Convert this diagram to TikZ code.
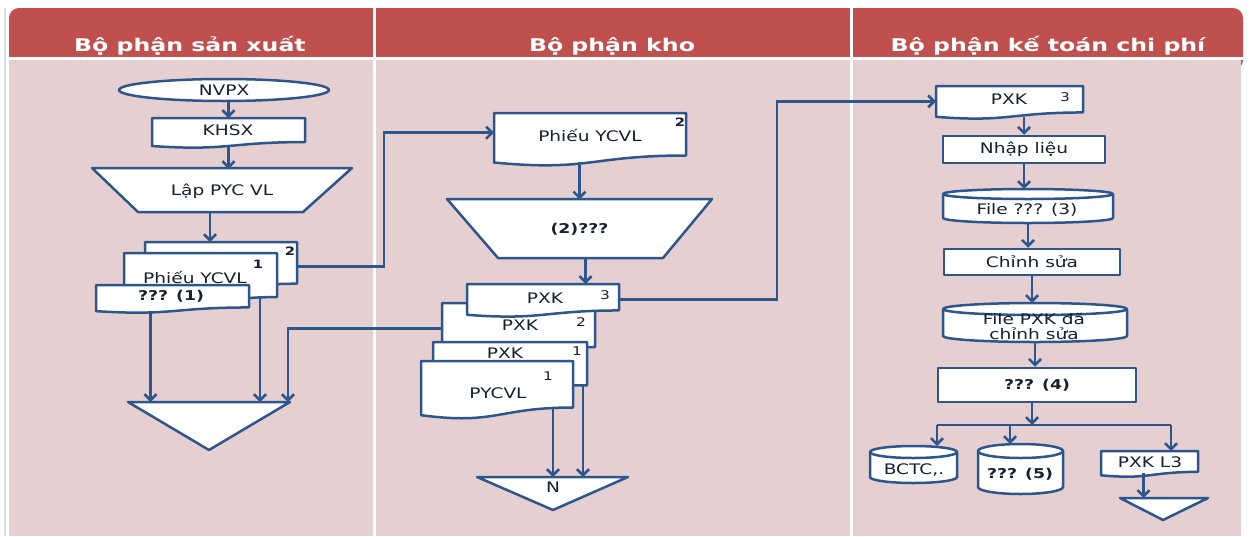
\documentclass[tikz,border=0pt]{standalone}
\usepackage{fontspec}
\setmainfont{DejaVu Sans}[FakeStretch=1.28]
\newfontfamily\hdrfont{DejaVu Sans}[FakeStretch=1.35]
\usetikzlibrary{arrows.meta,calc,shapes.geometric}
\definecolor{hdrc}{HTML}{C0504D}
\definecolor{bodyc}{HTML}{E6CFD1}
\definecolor{lnc}{HTML}{2D568C}
\definecolor{txtc}{HTML}{152030}
\definecolor{edgec}{HTML}{D9DEDE}
% document shape: name, x1, y1, x2, h
\newcommand\docsh[5]{%
  \filldraw[shp] (#2,#3) -- (#4,#3) -- (#4,{#3+0.802*#5})
    .. controls ({(#2+#4)/2},{#3+0.802*#5}) and ({(#2+#4)/2},{#3+1.107*#5}) .. (#2,{#3+0.934*#5}) -- cycle;
  \node[anc, minimum width={(#4-#2)*1pt}, minimum height={0.933*#5*1pt}] (#1) at ({(#2+#4)/2},{#3+0.4665*#5}) {};
}
% cylinder shape: name, x1, y1, x2, y2, ry
\newcommand\cylsh[6]{%
  \filldraw[shp] (#2,{#3+#6}) -- (#2,{#5-#6})
    arc[start angle=180,end angle=0,x radius={(#4-#2)/2},y radius=#6]
    -- (#4,{#3+#6})
    arc[start angle=0,end angle=-180,x radius={(#4-#2)/2},y radius=#6] -- cycle;
  \draw[shp,fill=none] (#2,{#3+#6}) arc[start angle=180,end angle=0,x radius={(#4-#2)/2},y radius=#6];
  \node[anc, minimum width={(#4-#2)*1pt}, minimum height={(#5-#3)*1pt}] (#1) at ({(#2+#4)/2},{(#3+#5)/2}) {};
}
\begin{document}
\begin{tikzpicture}[x=1pt,y=-1pt,
  shp/.style={draw=lnc, fill=white, line width=2.5pt, line join=round},
  arr/.style={draw=lnc, line width=2.6pt, -{Straight Barb[length=6pt,width=12pt]}},
  ln/.style={draw=lnc, line width=2.6pt},
  anc/.style={inner sep=0pt, outer sep=0pt},
  lbl/.style={text=txtc, font=\fontsize{14.5}{15.5}\selectfont, inner sep=0pt},
  blbl/.style={text=txtc, font=\fontsize{13.5}{15}\selectfont\bfseries, inner sep=0pt},
  num/.style={text=txtc, font=\fontsize{12}{13}\selectfont, inner sep=0pt},
  numb/.style={text=txtc, font=\fontsize{11.5}{12}\selectfont\bfseries, inner sep=0pt},
  hdr/.style={text=white, font=\hdrfont\fontsize{17.5}{20}\selectfont\bfseries, inner sep=0pt}
]
\useasboundingbox (0,0) rectangle (1249,536);
% background
\fill[white] (0,0) rectangle (1249,536);
\draw[edgec, line width=1.5pt] (5,8) -- (5,536);
\fill[hdrc, rounded corners=10pt] (9,8) rectangle (1243,70);
\fill[white] (9,57) rectangle (1243,60);
\fill[bodyc] (9,60) rectangle (1241,536);
\fill[white] (373,8) rectangle (375.5,536);
\fill[white] (850,8) rectangle (852.5,536);
\node[hdr] (h1) at (190,46) {Bộ phận sản xuất};
\node[hdr] (h2) at (612,46) {Bộ phận kho};
\node[hdr] (h3) at (1048,46) {Bộ phận kế toán chi phí};

% ---------- left column ----------
\node[shp, ellipse, minimum width=210pt, minimum height=22pt, inner sep=0pt, lbl] (nvpx) at (224,90) {NVPX};
\docsh{khsx}{152}{118}{305}{30}
\node[lbl] (khsxt) at (228,130) {KHSX};
\filldraw[shp] (92,168) -- (352,168) -- (303,212) -- (138,212) -- cycle;
\node[anc, lbl, minimum width=260pt, minimum height=44pt] (lap) at (222,191) {Lập PYC VL};
\docsh{d2}{145}{242}{297}{52}
\node[numb] (d2n) at (290,251) {2};
\docsh{d1}{124}{253}{277}{55}
\node[numb] (d1n) at (258,264) {1};
\node[lbl] (d1t) at (195,277) {Phiếu YCVL};
\docsh{q1}{96}{285}{249}{28}
\node[blbl] (q1t) at (171,296) {??? (1)};
\filldraw[shp] (128,402) -- (290,402) -- (209,450) -- cycle;
\node[anc, minimum width=162pt, minimum height=48pt] (t1) at (209,426) {};

\draw[arr] (khsx.north |- nvpx.south) -- (khsx.north);
\draw[arr] (khsx.south) -- (khsx.south |- lap.north);
\coordinate (lo) at ($(lap.south)+(-12,0)$);
\draw[arr] (lo) -- (lo |- d2.north);
\coordinate (q1o) at ($(q1.south)+(-22,0)$);
\draw[arr] (q1o) -- (q1o |- t1.north);
\coordinate (d1o) at ($(d1.south east)+(-17,-6)$);
\draw[arr] (d1o) -- (d1o |- t1.north);

% ---------- middle column ----------
\docsh{pyc2}{494}{113}{686}{53}
\node[lbl] (pyc2t) at (590,135) {Phiếu YCVL};
\node[numb] (pyc2n) at (680,122) {2};
\filldraw[shp] (447,199) -- (712,199) -- (663,258) -- (498,258) -- cycle;
\node[anc, blbl, minimum width=265pt, minimum height=59pt] (trap2) at (579.5,229) {(2)???};
\docsh{pxk2}{442}{303}{595}{55}
\node[lbl] (pxk2t) at (520,325) {PXK};
\node[num] (pxk2n) at (581,322) {2};
\docsh{pxk3}{467}{284}{619}{33}
\node[lbl] (pxk3t) at (545,298) {PXK};
\node[num] (pxk3n) at (605,295) {3};
\docsh{pxk1}{433}{342}{587}{54}
\node[lbl] (pxk1t) at (505,353) {PXK};
\node[num] (pxk1n) at (577,351) {1};
\docsh{pycvl}{421}{361}{573}{58}
\node[num] (pycvln) at (548,376) {1};
\node[lbl] (pycvlt) at (498,393) {PYCVL};
\filldraw[shp] (477,477) -- (628,477) -- (553,510) -- cycle;
\node[anc, minimum width=151pt, minimum height=33pt] (tn) at (552.5,493.5) {};
\node[lbl] (tnt) at (553,487) {N};

\coordinate (pyin) at ($(pyc2.west)+(0,-5)$);
\draw[arr] (d2.east) -- ++(87,0) |- (pyin);
\draw[arr] (trap2.north |- pyc2.south) -- (trap2.north);
\coordinate (t2o) at ($(trap2.south)+(6,0)$);
\draw[arr] (t2o) -- (t2o |- pxk3.north);
\coordinate (t1in) at ($(t1.north east)+(-2,0)$);
\draw[arr] (pxk2.west) -| (t1in);
\coordinate (pyo) at ($(pycvl.south east)+(-20,-7)$);
\draw[arr] (pyo) -- (pyo |- tn.north);
\coordinate (p1o) at ($(pxk1.south east)+(-4,-7)$);
\draw[arr] (p1o) -- (p1o |- tn.north);

% ---------- right column ----------
\docsh{rpxk3}{936}{86}{1083}{33}
\node[lbl] (rpxk3t) at (1009,99) {PXK};
\node[num] (rpxk3n) at (1065,97) {3};
\node[shp, lbl, minimum width=162pt, minimum height=27pt, inner sep=0pt] (nhap) at (1024,149.5) {Nhập liệu};
\cylsh{file3}{943}{189}{1113}{223}{5}
\node[lbl] (file3t) at (1027,210) {File ??? (3)};
\node[shp, lbl, minimum width=176pt, minimum height=26pt, inner sep=0pt] (chinh) at (1032,262) {Chỉnh sửa};
\cylsh{filepxk}{943}{303}{1127}{342}{6}
\node[lbl, align=center, font=\fontsize{14.5}{15}\selectfont] (filepxkt) at (1034,326.5) {File PXK đã\\chỉnh sửa};
\node[shp, blbl, minimum width=198pt, minimum height=34pt, inner sep=0pt] (q4) at (1037,385) {??? (4)};
\cylsh{bctc}{870}{446}{957}{483}{6}
\node[lbl] (bctct) at (914,470) {BCTC,.};
\cylsh{q5}{978}{444}{1063}{494}{7}
\node[blbl] (q5t) at (1020,474) {??? (5)};
\docsh{pxkl3}{1101}{451}{1198}{26}
\node[lbl] (pxkl3t) at (1150,462) {PXK L3};
\filldraw[shp] (1120,498) -- (1208,498) -- (1163,520) -- cycle;
\node[anc, minimum width=88pt, minimum height=22pt] (t3) at (1164,509) {};

\draw[arr] (pxk3.east) -- ++(158,0) |- (rpxk3.west);
\draw[arr] (nhap.north |- rpxk3.south) -- (nhap.north);
\draw[arr] (nhap.south) -- (nhap.south |- file3.north);
\draw[arr] (file3.south) -- (file3.south |- chinh.north);
\draw[arr] (chinh.south) -- (chinh.south |- filepxk.north);
\draw[arr] (filepxk.south) -- (filepxk.south |- q4.north);
\coordinate (busc) at (1032,425);
\coordinate (bl) at (937,425);
\coordinate (bm) at (1010,425);
\coordinate (br) at (1171,425);
\draw[arr] (q4.south -| busc) -- (busc);
\draw[ln] (bl) -- (br);
\draw[arr] (bl) -- (bl |- bctc.north);
\draw[arr] (bm) -- (bm |- q5.north);
\draw[arr] (br) -- (br |- pxkl3.north);
\coordinate (x3) at ($(pxkl3.south)+(-6,-2)$);
\draw[arr] (x3) -- (x3 |- t3.north);
\end{tikzpicture}
\end{document}
